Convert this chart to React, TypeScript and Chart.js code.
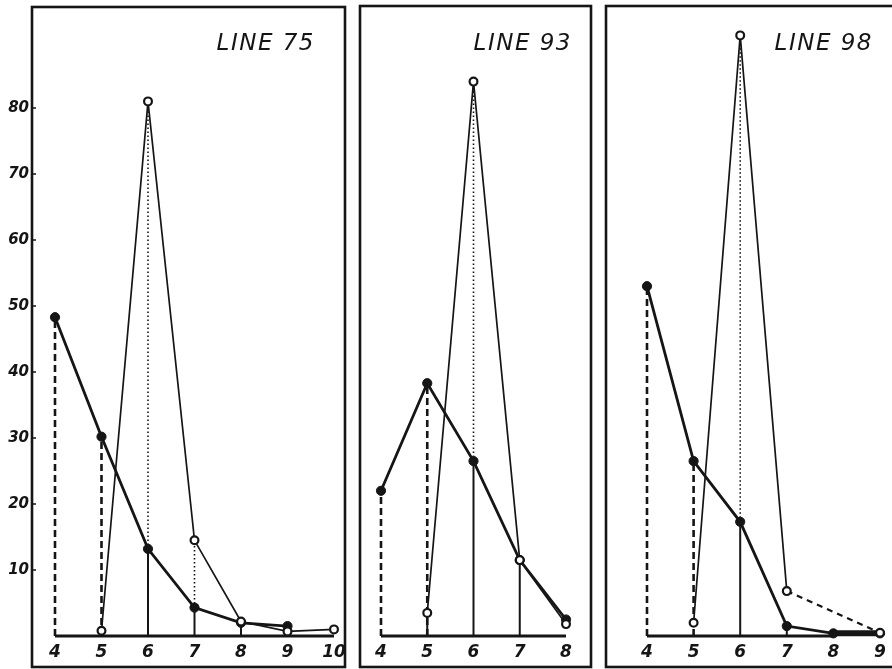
import React, { useEffect, useRef } from "react";
import { Chart, registerables } from "chart.js";
Chart.register(...registerables);

// ---- data ----
const yTicks = [10, 20, 30, 40, 50, 60, 70, 80];

const line75Categories = [4, 5, 6, 7, 8, 9, 10];
const line75Filled = [48.3, 30.2, 13.2, 4.3, 2.0, 1.5, null];
const line75Open = [null, 0.8, 81, 14.5, 2.2, 0.7, 1.0];
const line75Drops = ["dash", "dash", "solid", "solid", "solid", null, null];
const line75Dotted = [false, false, true, true, false, false, false];
const line75OpenDrops = [false, false, false, false, false, false, false];

const line93Categories = [4, 5, 6, 7, 8];
const line93Filled = [22, 38.3, 26.5, 11.5, 2.5];
const line93Open = [null, 3.5, 84, 11.5, 1.8];
const line93Drops = ["dash", "dash", "solid", "solid", null];
const line93Dotted = [false, false, true, false, false];
const line93OpenDrops = [false, true, false, false, false];

const line98Categories = [4, 5, 6, 7, 8, 9];
const line98Filled = [53, 26.5, 17.3, 1.5, 0.4, 0.4];
const line98Open = [null, 2, 91, 6.8, null, 0.5];
const line98Drops = ["dash", "dash", "solid", "solid", null, null];
const line98Dotted = [false, false, true, false, false, false];
const line98OpenDrops = [false, false, false, false, false, false];

type Panel = {
  title: string;
  categories: number[];
  filled: (number | null)[];
  open: (number | null)[];
  drops: (string | null)[];
  dotted: boolean[];
  openDrops: boolean[];
  axisEnd: number;
  showY: boolean;
  pad: { left: number; right: number; top: number; bottom: number };
  box: [number, number, number, number];
  titleRight: number;
  dashedOpenFrom: number | null;
  thickFilledFrom: number | null;
};

const W = 892;
const H = 669;

const panels: Panel[] = [
  {
    title: "LINE 75",
    categories: line75Categories,
    filled: line75Filled,
    open: line75Open,
    drops: line75Drops,
    dotted: line75Dotted,
    openDrops: line75OpenDrops,
    axisEnd: 10,
    showY: true,
    pad: { left: 55, right: W - 334, top: 9, bottom: H - 636 },
    box: [32, 7, 345, 667],
    titleRight: 315,
    dashedOpenFrom: null,
    thickFilledFrom: null,
  },
  {
    title: "LINE 93",
    categories: line93Categories,
    filled: line93Filled,
    open: line93Open,
    drops: line93Drops,
    dotted: line93Dotted,
    openDrops: line93OpenDrops,
    axisEnd: 8,
    showY: false,
    pad: { left: 381, right: W - 566, top: 9, bottom: H - 636 },
    box: [360, 6, 591, 667],
    titleRight: 572,
    dashedOpenFrom: null,
    thickFilledFrom: null,
  },
  {
    title: "LINE 98",
    categories: line98Categories,
    filled: line98Filled,
    open: line98Open,
    drops: line98Drops,
    dotted: line98Dotted,
    openDrops: line98OpenDrops,
    axisEnd: 8,
    showY: false,
    pad: { left: 647, right: W - 880, top: 9, bottom: H - 636 },
    box: [606, 6, 905, 667],
    titleRight: 873,
    dashedOpenFrom: 7,
    thickFilledFrom: 8,
  },
];

const INK = "#151515";

function pts(cats: number[], vals: (number | null)[]) {
  const out: { x: number; y: number }[] = [];
  cats.forEach((c, i) => {
    const v = vals[i];
    if (v !== null && v !== undefined) out.push({ x: c, y: v });
  });
  return out;
}

function buildConfig(p: Panel): any {
  const datasets: any[] = [];
  p.categories.forEach((c, i) => {
    const f = p.filled[i];
    const o = p.open[i];
    const d = p.drops[i];
    if (d && f !== null) {
      datasets.push({
        data: [
          { x: c, y: 0 },
          { x: c, y: f },
        ],
        borderColor: INK,
        borderWidth: d === "dash" ? 2.6 : 2,
        borderDash: d === "dash" ? [7, 4] : [],
        pointRadius: 0,
        order: 5,
      });
    }
    if (p.dotted[i] && f !== null && o !== null) {
      datasets.push({
        data: [
          { x: c, y: f },
          { x: c, y: o },
        ],
        borderColor: INK,
        borderWidth: 1.6,
        borderDash: [1.5, 2.5],
        pointRadius: 0,
        order: 5,
      });
    }
    if (p.openDrops[i] && o !== null) {
      datasets.push({
        data: [
          { x: c, y: 0 },
          { x: c, y: o },
        ],
        borderColor: INK,
        borderWidth: 2,
        pointRadius: 0,
        order: 4,
      });
    }
  });
  const thick = p.thickFilledFrom;
  datasets.push({
    data: pts(p.categories, p.filled),
    borderColor: INK,
    borderWidth: 2.8,
    pointRadius: 4.6,
    pointBackgroundColor: INK,
    pointBorderColor: INK,
    pointBorderWidth: 1,
    order: 2,
    segment: {
      borderWidth: (ctx: any) =>
        thick !== null && ctx.p0.parsed.x >= thick ? 6 : 2.8,
    },
  });
  const dashFrom = p.dashedOpenFrom;
  datasets.push({
    data: pts(p.categories, p.open),
    borderColor: INK,
    borderWidth: 1.7,
    pointRadius: 3.9,
    pointBackgroundColor: "#ffffff",
    pointBorderColor: INK,
    pointBorderWidth: 2.2,
    order: 1,
    segment: {
      borderDash: (ctx: any) =>
        dashFrom !== null && ctx.p0.parsed.x >= dashFrom ? [6, 5] : undefined,
      borderWidth: (ctx: any) =>
        dashFrom !== null && ctx.p0.parsed.x >= dashFrom ? 2.2 : 1.7,
    },
  });

  const deco = {
    id: "deco",
    beforeDatasetsDraw(chart: any) {
      const ctx = chart.ctx;
      const xs = chart.scales.x;
      const ys = chart.scales.y;
      ctx.save();
      ctx.strokeStyle = INK;
      ctx.fillStyle = INK;
      // frame
      const [bx0, by0, bx1, by1] = p.box;
      ctx.lineWidth = 2.6;
      ctx.strokeRect(bx0, by0, bx1 - bx0, by1 - by0);
      // x axis line
      const y0 = ys.getPixelForValue(0);
      ctx.lineWidth = 2.8;
      ctx.beginPath();
      ctx.moveTo(xs.getPixelForValue(p.categories[0]), y0);
      ctx.lineTo(xs.getPixelForValue(p.axisEnd), y0);
      ctx.stroke();
      // x labels
      ctx.font = "bold italic 17px 'DejaVu Sans'";
      ctx.textAlign = "center";
      ctx.textBaseline = "middle";
      p.categories.forEach((c) => {
        ctx.fillText(String(c), xs.getPixelForValue(c), 653);
      });
      // y labels
      if (p.showY) {
        ctx.font = "bold italic 15px 'DejaVu Sans'";
        ctx.textAlign = "right";
        ctx.lineWidth = 1.5;
        yTicks.forEach((t) => {
          const py = ys.getPixelForValue(t);
          ctx.fillText(String(t), 29, py);
          ctx.beginPath();
          ctx.moveTo(bx0, py);
          ctx.lineTo(bx0 + 4, py);
          ctx.stroke();
        });
      }
      // title
      ctx.font = "italic 23px 'DejaVu Sans'";
      (ctx as any).letterSpacing = "1.5px";
      ctx.textAlign = "right";
      ctx.textBaseline = "alphabetic";
      ctx.fillText(p.title, p.titleRight, 50);
      ctx.restore();
    },
  };

  return {
    type: "line",
    data: { datasets },
    options: {
      animation: false,
      responsive: false,
      events: [],
      layout: { padding: p.pad },
      plugins: { legend: { display: false }, tooltip: { enabled: false } },
      elements: { line: { tension: 0 } },
      datasets: { line: { clip: false } },
      scales: {
        x: {
          type: "linear",
          min: p.categories[0],
          max: p.categories[p.categories.length - 1],
          display: false,
        },
        y: { type: "linear", min: 0, max: 95, display: false },
      },
    },
    plugins: [deco],
  };
}

function PanelChart({ panel }: { panel: Panel }) {
  const ref = useRef<HTMLCanvasElement | null>(null);
  useEffect(() => {
    if (!ref.current) return;
    const chart = new Chart(ref.current, buildConfig(panel));
    return () => chart.destroy();
  }, [panel]);
  return (
    <canvas
      ref={ref}
      width={W}
      height={H}
      style={{ position: "absolute", left: 0, top: 0, width: W, height: H }}
    />
  );
}

export default function App() {
  useEffect(() => {
    document.body.style.margin = "0";
    document.body.style.background = "#ffffff";
  }, []);
  return (
    <div
      style={{
        position: "relative",
        width: W,
        height: H,
        overflow: "hidden",
        background: "#ffffff",
      }}
    >
      {panels.map((p) => (
        <PanelChart key={p.title} panel={p} />
      ))}
    </div>
  );
}
